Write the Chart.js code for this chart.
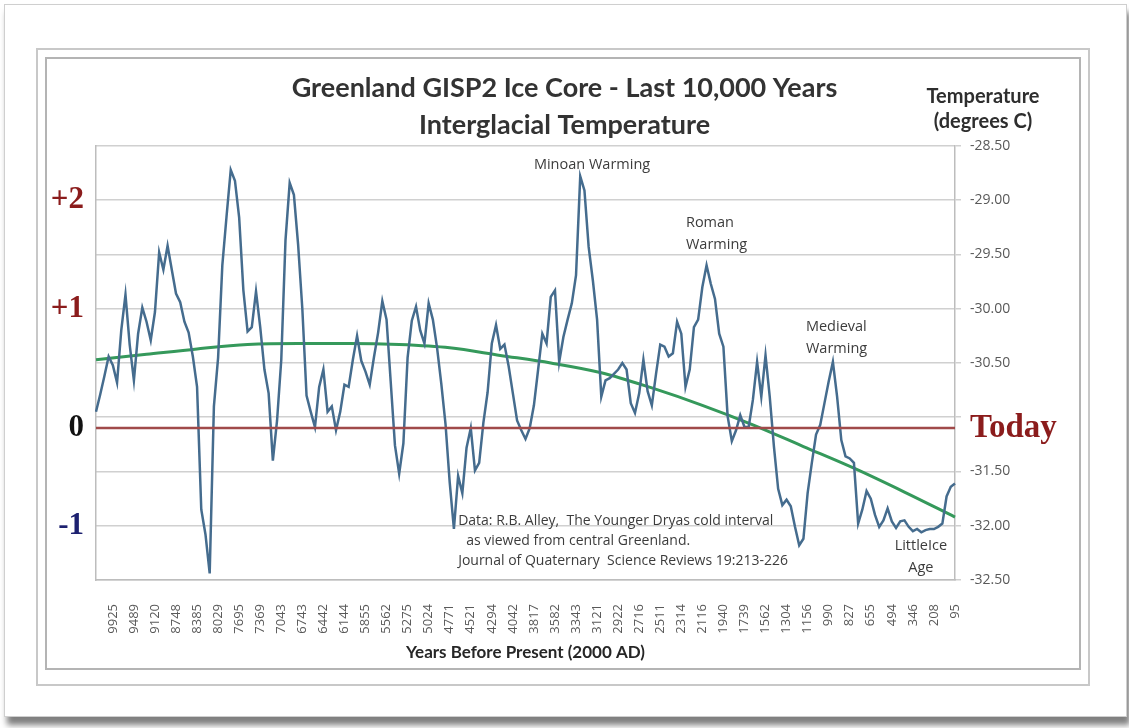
<!DOCTYPE html>
<html>
<head>
<meta charset="utf-8">
<title>Greenland GISP2 Ice Core - Last 10,000 Years</title>
<script src="https://cdn.jsdelivr.net/npm/chart.js@4.4.1/dist/chart.umd.min.js"></script>
<style>
    html, body { margin: 0; padding: 0; background: #fff; }
    body { width: 1129px; height: 728px; position: relative; overflow: hidden; }
    .card { position: absolute; left: 4px; top: 4px; width: 1121px; height: 711px; border: 1px solid #cfcfcf; background: #fff; box-shadow: 3px 8px 6px rgba(0,0,0,0.5); }
    .frame-outer { position: absolute; left: 36px; top: 48px; width: 1050px; height: 634px; border: 2px solid #c8c8c8; }
    .frame-inner { position: absolute; left: 45px; top: 57px; width: 1032px; height: 609px; border: 2px solid #b4b4b4; }
    #gispChart { position: absolute; left: 0; top: 0; }
</style>
</head>
<body>
<div class="card"></div>
<div class="frame-outer"></div>
<div class="frame-inner"></div>
<canvas id="gispChart" width="1129" height="728"></canvas>

<script>
// Tick labels on the x axis (years before present), one every 5 samples
const yearLabels = [
    '9925', '9489', '9120', '8748', '8385', '8029', '7695', '7369', '7043', '6743',
    '6442', '6144', '5855', '5562', '5275', '5024', '4771', '4521', '4294', '4042',
    '3817', '3582', '3343', '3121', '2922', '2716', '2511', '2314', '2116', '1940',
    '1739', '1562', '1304', '1156', '990', '827', '655', '494', '346', '208', '95'
];
const pointsPerLabel = 5;
const firstLabelIndex = 4;

// GISP2 temperature (degrees C)
const tempC = [
    -30.95, -30.79, -30.62, -30.44, -30.52, -30.68, -30.20, -29.87, -30.33, -30.66,
    -30.23, -29.99, -30.12, -30.29, -30.03, -29.48, -29.64, -29.42, -29.64, -29.86,
    -29.94, -30.12, -30.22, -30.44, -30.72, -31.85, -32.08, -32.44, -30.90, -30.45,
    -29.60, -29.15, -28.72, -28.82, -29.16, -29.83, -30.21, -30.17, -29.84, -30.17,
    -30.56, -30.78, -31.40, -31.03, -30.47, -29.37, -28.84, -28.95, -29.41, -30.00,
    -30.80, -30.95, -31.09, -30.72, -30.56, -30.95, -30.90, -31.12, -30.95, -30.70,
    -30.72, -30.47, -30.25, -30.48, -30.58, -30.70, -30.45, -30.22, -29.93, -30.10,
    -30.68, -31.26, -31.52, -31.24, -30.45, -30.11, -29.98, -30.20, -30.32, -29.95,
    -30.10, -30.36, -30.69, -31.06, -31.60, -32.03, -31.54, -31.70, -31.28, -31.10,
    -31.49, -31.42, -31.05, -30.77, -30.32, -30.15, -30.37, -30.33, -30.53, -30.78,
    -31.03, -31.12, -31.20, -31.10, -30.89, -30.56, -30.23, -30.32, -29.89, -29.83,
    -30.49, -30.26, -30.10, -29.95, -29.69, -28.78, -28.91, -29.43, -29.74, -30.10,
    -30.81, -30.66, -30.64, -30.60, -30.56, -30.50, -30.56, -30.87, -30.96, -30.78,
    -30.47, -30.76, -30.89, -30.60, -30.33, -30.35, -30.44, -30.41, -30.12, -30.23,
    -30.72, -30.56, -30.17, -30.10, -29.80, -29.60, -29.77, -29.91, -30.23, -30.35,
    -30.99, -31.22, -31.12, -30.98, -31.09, -31.09, -30.84, -30.49, -30.81, -30.43,
    -30.81, -31.27, -31.66, -31.81, -31.76, -31.82, -32.01, -32.18, -32.12, -31.70,
    -31.42, -31.16, -31.07, -30.87, -30.67, -30.49, -30.81, -31.21, -31.36, -31.38,
    -31.42, -31.98, -31.85, -31.68, -31.75, -31.90, -32.01, -31.95, -31.84, -31.96,
    -32.02, -31.96, -31.95, -32.01, -32.05, -32.03, -32.06, -32.04, -32.03, -32.03,
    -32.01, -31.98, -31.73, -31.64, -31.61
];

// Trend line (green), read every 12 samples
const trendStep = 12;
const trendC = [
    -30.47, -30.42, -30.37, -30.33, -30.32, -30.32, -30.33, -30.36, -30.43,
    -30.50, -30.59, -30.73, -30.89, -31.07, -31.27, -31.47, -31.69, -31.92
];

// "Today" reference level
const todayLevel = -31.1;

// Axis ticks
const rightTickValues = [-32.5, -32, -31.5, todayLevel, -31, -30.5, -30, -29.5, -29, -28.5];
const leftTickValues = [-32, todayLevel, -30, -29];
const leftTickLabels = ['-1', '0', '+1', '+2'];
const leftTickColors = ['#1d2170', '#111111', '#8b1c1c', '#8b1c1c'];

// Text on the plot
const eventNotes = [
    { lines: ['Minoan Warming'], at: 117.8, temp: -28.675, align: 'center' },
    { lines: ['Roman', 'Warming'], at: 140.1, temp: -29.21, align: 'left' },
    { lines: ['Medieval', 'Warming'], at: 168.6, temp: -30.17, align: 'left' },
    { lines: ['LittleIce', 'Age'], at: 195.9, temp: -32.19, align: 'center' }
];
const sourceNote = [
    'Data: R.B. Alley,  The Younger Dryas cold interval',
    'as viewed from central Greenland.',
    'Journal of Quaternary  Science Reviews 19:213-226'
];

const categories = tempC.map((_, i) =>
    (i >= firstLabelIndex && (i - firstLabelIndex) % pointsPerLabel === 0)
        ? yearLabels[(i - firstLabelIndex) / pointsPerLabel] : '');
const trendData = tempC.map((_, i) => i % trendStep === 0 ? trendC[i / trendStep] : null);
const todayData = tempC.map((_, i) => (i === 0 || i === tempC.length - 1) ? todayLevel : null);

const serifBold = (size) => ({ family: "'Liberation Serif', 'Times New Roman', serif", size: size, weight: 'bold' });

// Annotations: event names, data source, right axis heading
const notesPlugin = {
    id: 'gispNotes',
    afterDatasetsDraw(chart) {
        const { ctx, chartArea, scales } = chart;
        const x = scales.x, y = scales.yRight;
        ctx.save();
        ctx.textBaseline = 'middle';
        ctx.fillStyle = '#3c3c3c';
        ctx.font = "14.5px 'Open Sans', sans-serif";
        eventNotes.forEach(n => {
            ctx.textAlign = n.align;
            const px = x.getPixelForValue(n.at);
            const py = y.getPixelForValue(n.temp);
            n.lines.forEach((line, k) => ctx.fillText(line, px, py + k * 22));
        });

        ctx.font = "14px 'Open Sans', sans-serif";
        ctx.textAlign = 'left';
        const sx = x.getPixelForValue(86);
        const sy = y.getPixelForValue(-31.96);
        sourceNote.forEach((line, k) => ctx.fillText(line, sx + (k === 1 ? 8 : 0), sy + k * 20));

        ctx.font = "bold 20px Lato, sans-serif";
        ctx.textAlign = 'center';
        ctx.fillStyle = '#2e2e2e';
        ctx.fillText('Temperature', chartArea.right + 28, chartArea.top - 49);
        ctx.fillText('(degrees C)', chartArea.right + 28, chartArea.top - 24);
        ctx.restore();
    }
};

const chartCtx = document.getElementById('gispChart').getContext('2d');
new Chart(chartCtx, {
    type: 'line',
    data: {
        labels: categories,
        datasets: [
            {
                label: 'Today',
                data: todayData,
                yAxisID: 'yRight',
                borderColor: '#a04a4a',
                borderWidth: 2.5,
                pointRadius: 0,
                spanGaps: true
            },
            {
                label: 'GISP2 temperature',
                data: tempC,
                yAxisID: 'yRight',
                borderColor: '#456c8e',
                borderWidth: 2.5,
                pointRadius: 0,
                tension: 0
            },
            {
                label: 'Trend',
                data: trendData,
                yAxisID: 'yRight',
                borderColor: '#35995b',
                borderWidth: 3,
                pointRadius: 0,
                spanGaps: true,
                cubicInterpolationMode: 'monotone'
            }
        ]
    },
    options: {
        responsive: false,
        devicePixelRatio: 1,
        animation: false,
        layout: { padding: { top: 70, left: 0, right: 0, bottom: 0 } },
        plugins: {
            legend: { display: false },
            tooltip: { enabled: false },
            title: {
                display: true,
                text: ['Greenland GISP2 Ice Core - Last 10,000 Years', 'Interglacial Temperature'],
                color: '#333333',
                font: { family: 'Lato, sans-serif', size: 27, weight: 'bold', lineHeight: 1.37 },
                padding: { top: 0, bottom: 2 }
            }
        },
        scales: {
            x: {
                type: 'category',
                offset: false,
                grid: { display: false },
                border: { display: true, color: '#bdbdbd', width: 1.5 },
                ticks: {
                    autoSkip: false,
                    minRotation: 90,
                    maxRotation: 90,
                    padding: 16,
                    color: '#595959',
                    font: { family: "'Open Sans', sans-serif", size: 13 }
                },
                title: {
                    display: true,
                    text: 'Years Before Present (2000 AD)',
                    color: '#262626',
                    font: { family: 'Lato, sans-serif', size: 17, weight: 'bold' },
                    padding: { top: 0, bottom: 65 }
                },
                afterFit: (s) => { s.height = 148; }
            },
            yRight: {
                type: 'linear',
                position: 'right',
                min: -32.5,
                max: -28.5,
                afterBuildTicks: (s) => { s.ticks = rightTickValues.map(v => ({ value: v })); },
                grid: {
                    color: (c) => (c.tick && c.tick.value === todayLevel) ? 'rgba(0,0,0,0)' : '#d0d0d0',
                    lineWidth: 1.5,
                    tickLength: 6
                },
                border: { display: true, color: '#bdbdbd', width: 1.5 },
                ticks: {
                    padding: 9,
                    color: (c) => (c.tick && c.tick.value === todayLevel) ? '#8b1c1c' : '#595959',
                    font: (c) => (c.tick && c.tick.value === todayLevel)
                        ? serifBold(33)
                        : { family: "'Open Sans', sans-serif", size: 14 },
                    callback: (v) => v === todayLevel ? 'Today' : (v === -31 ? '' : v.toFixed(2))
                },
                afterFit: (s) => { s.width = 174; }
            },
            yLeft: {
                type: 'linear',
                position: 'left',
                min: -32.5,
                max: -28.5,
                afterBuildTicks: (s) => { s.ticks = leftTickValues.map(v => ({ value: v })); },
                grid: { display: false },
                border: { display: true, color: '#bdbdbd', width: 1.5 },
                ticks: {
                    padding: 4,
                    color: (c) => leftTickColors[c.index],
                    font: serifBold(31),
                    callback: (v, i) => leftTickLabels[i]
                },
                afterFit: (s) => { s.width = 96; }
            }
        }
    },
    plugins: [notesPlugin]
});
</script>
</body>
</html>
